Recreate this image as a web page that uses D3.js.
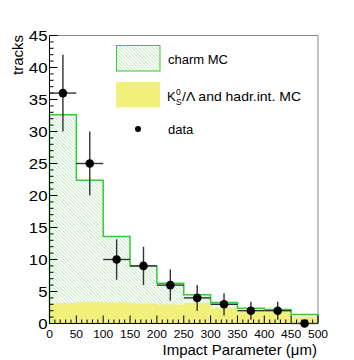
<!DOCTYPE html>
<html>
<head>
<meta charset="utf-8">
<script src="https://cdn.jsdelivr.net/npm/d3@7"></script>
<style>
  html, body { margin: 0; padding: 0; background: #fff; }
  svg { display: block; font-family: "Liberation Sans", Arial, Helvetica, sans-serif; }
</style>
</head>
<body>
<svg id="chart" width="354" height="360"></svg>
<script>
// ---- data ----
const binEdges = [0, 50, 100, 150, 200, 250, 300, 350, 400, 450, 500];
const stackTotal = [32.6, 22.4, 13.6, 9.0, 6.3, 4.5, 3.3, 2.4, 2.2, 1.4];   // charm MC + background (stack top)
const background = [3.2, 3.35, 3.3, 3.15, 2.95, 3.2, 2.4, 1.8, 1.8, 1.05]; // K0S/Lambda and hadr.int. MC
const dataCounts = [36, 25, 10, 9, 6, 4, 3, 2, 2, 0];
const dataErrors = dataCounts.map(Math.sqrt);
const xTicks = [0, 50, 100, 150, 200, 250, 300, 350, 400, 450, 500];
const yTicks = [0, 5, 10, 15, 20, 25, 30, 35, 40, 45];
const legendLabels = ["charm MC", "and hadr.int. MC", "data"];

// ---- layout ----
const L = 49.5, R = 318, T = 35.5, B = 323.5;
const x = d3.scaleLinear().domain([0, 500]).range([L, R]);
const y = d3.scaleLinear().domain([0, 45]).range([B, T]);

const svg = d3.select("#chart");
const defs = svg.append("defs");
const pat = defs.append("pattern").attr("id", "hatch")
  .attr("patternUnits", "userSpaceOnUse").attr("width", 3.5).attr("height", 3.5);
pat.append("rect").attr("width", 3.5).attr("height", 3.5).attr("fill", "#fff");
pat.append("path").attr("d", "M-1,-1 L4.5,4.5 M-1,2.5 L1,4.5 M2.5,-1 L4.5,1")
  .attr("stroke", "#9edc9e").attr("stroke-width", 0.8);

const bins = dataCounts.map((d, i) => ({
  x0: binEdges[i], x1: binEdges[i + 1], total: stackTotal[i], bkg: background[i], n: d, e: dataErrors[i]
}));

// hatched charm stack
svg.append("g").selectAll("rect").data(bins).join("rect")
  .attr("x", d => x(d.x0)).attr("width", d => x(d.x1) - x(d.x0))
  .attr("y", d => y(d.total)).attr("height", d => y(0) - y(d.total))
  .attr("fill", "url(#hatch)");

// background (yellow)
svg.append("g").selectAll("rect").data(bins).join("rect")
  .attr("x", d => x(d.x0)).attr("width", d => x(d.x1) - x(d.x0) + 0.3)
  .attr("y", d => y(d.bkg)).attr("height", d => y(0) - y(d.bkg))
  .attr("fill", "#f0f07a");

// green outline of stack
let pts = [[x(0), y(0)]];
bins.forEach(d => { pts.push([x(d.x0), y(d.total)]); pts.push([x(d.x1), y(d.total)]); });
pts.push([x(500), y(0)]);
svg.append("path").attr("d", d3.line()(pts))
  .attr("fill", "none").attr("stroke", "#33cc33").attr("stroke-width", 1.5);

// frame top/right
svg.append("path").attr("d", `M${L},${T}H${R}V${B}`).attr("fill", "none")
  .attr("stroke", "#888").attr("stroke-width", 1);

// axes
const ax = svg.append("g").attr("stroke", "#000").attr("stroke-width", 1).attr("fill", "none");
ax.append("path").attr("d", `M${L},${T}V${B}H${R}`);
d3.range(0, 46, 1).forEach(v => {
  const len = v % 5 === 0 ? 8 : 4;
  ax.append("line").attr("x1", L).attr("x2", L + len).attr("y1", y(v)).attr("y2", y(v));
});
d3.range(0, 501, 10).forEach(v => {
  const len = v % 50 === 0 ? 8 : 4;
  ax.append("line").attr("x1", x(v)).attr("x2", x(v)).attr("y1", B).attr("y2", B - len);
});

// tick labels
svg.append("g").selectAll("text").data(yTicks).join("text")
  .attr("transform", d => `translate(47.5,${y(d)}) scale(1.2,1)`)
  .attr("text-anchor", "end").attr("dy", "0.36em")
  .attr("font-size", 14).text(d => d);
svg.append("g").selectAll("text").data(xTicks).join("text")
  .attr("transform", d => `translate(${x(d)},337.5) scale(1.15,1)`)
  .attr("text-anchor", "middle").attr("font-size", 10.5).text(d => d);

// axis titles
svg.append("text").attr("transform", "translate(23,35) rotate(-90)")
  .attr("text-anchor", "end").attr("font-size", 15).text("tracks");
svg.append("text").attr("x", 317).attr("y", 354.5).attr("text-anchor", "end")
  .attr("font-size", 15).text("Impact Parameter (\u03bcm)");

// data points with errors
const dg = svg.append("g");
bins.forEach(d => {
  const cx = x((d.x0 + d.x1) / 2), cy = y(d.n);
  dg.append("line").attr("x1", x(d.x0)).attr("x2", x(d.x1)).attr("y1", cy).attr("y2", cy)
    .attr("stroke", "#333").attr("stroke-width", 1.4);
  if (d.e > 0) dg.append("line").attr("x1", cx).attr("x2", cx).attr("y1", y(d.n + d.e)).attr("y2", y(d.n - d.e))
    .attr("stroke", "#333").attr("stroke-width", 1.4);
  dg.append("circle").attr("cx", cx).attr("cy", cy).attr("r", 4.3).attr("fill", "#000");
});

// legend
const lg = svg.append("g").attr("font-size", 13);
lg.append("rect").attr("x", 116.5).attr("y", 45.5).attr("width", 43.5).attr("height", 25.5)
  .attr("fill", "url(#hatch)").attr("stroke", "#33cc33").attr("stroke-width", 1);
lg.append("rect").attr("x", 116).attr("y", 82).attr("width", 44).attr("height", 25.5).attr("fill", "#f0f07a");
lg.append("circle").attr("cx", 138).attr("cy", 129).attr("r", 3).attr("fill", "#000");
lg.append("text").attr("x", 168).attr("y", 64).text(legendLabels[0]);
lg.append("text").attr("x", 167).attr("y", 101).text("K");
lg.append("text").attr("x", 176).attr("y", 95).attr("font-size", 8.5).text("0");
lg.append("text").attr("x", 176).attr("y", 104.5).attr("font-size", 8.5).text("S");
lg.append("text").attr("x", 182).attr("y", 101)
  .attr("textLength", 119).attr("lengthAdjust", "spacingAndGlyphs")
  .text("/\u039b " + legendLabels[1]);
lg.append("text").attr("x", 168).attr("y", 134).text(legendLabels[2]);
</script>
</body>
</html>
